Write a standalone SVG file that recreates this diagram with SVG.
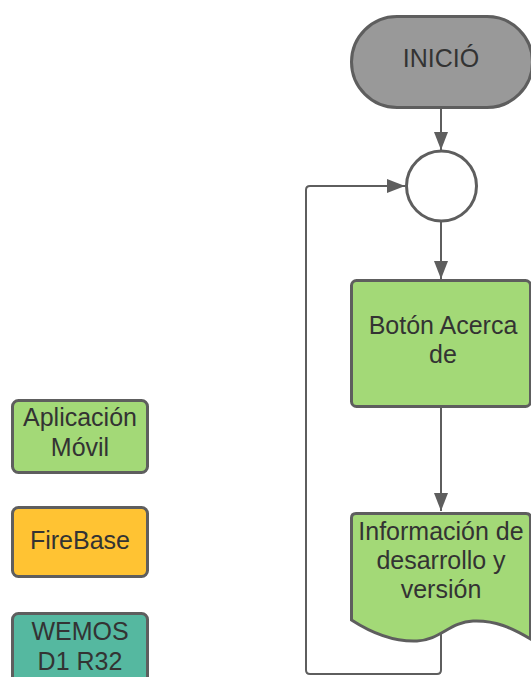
<svg xmlns="http://www.w3.org/2000/svg" width="531" height="677" viewBox="0 0 531 677">
<style>
.s{stroke:#5e5e5e;stroke-width:3}
.t{font-family:"Liberation Sans",Arial,sans-serif;font-size:25px;fill:#333;text-anchor:middle}
.c{fill:none;stroke:#5e5e5e;stroke-width:2}
</style>
<defs>
<marker id="a" markerWidth="18" markerHeight="14" refX="18" refY="7" viewBox="0 0 18 14" markerUnits="userSpaceOnUse" orient="auto">
<path d="M0,0 L18,7 L0,14 Z" fill="#5e5e5e"/>
</marker>
</defs>
<rect width="531" height="677" fill="#fff"/>
<g id="connectors">
<path class="c" d="M441,108 V150" marker-end="url(#a)"/>
<path class="c" d="M441,221 V279" marker-end="url(#a)"/>
<path class="c" d="M441,407 V511" marker-end="url(#a)"/>
<path class="c" d="M441,633 V670 Q441,674 437,674 H310 Q306,674 306,670 V190 Q306,186 310,186 H405" marker-end="url(#a)"/>
</g>
<g id="inicio">
<rect class="s" x="351.5" y="16.5" width="181" height="91" rx="45.5" fill="#999"/>
<text class="t" x="441" y="67">INICIÓ</text>
</g>
<g id="junction">
<circle class="s" cx="441.5" cy="186" r="35" fill="#fff"/>
</g>
<g id="boton">
<rect class="s" x="351.5" y="280.5" width="179" height="126" rx="5" fill="#A3D977"/>
<text class="t" x="443" y="334">Botón Acerca</text>
<text class="t" x="443" y="363">de</text>
</g>
<g id="info">
<path class="s" d="M351.5,518 Q351.5,513.5 356,513.5 H526 Q530.5,513.5 530.5,518 V639 C512,628 495,620 473,621 C450,622 440,640 417,641 C392,642 370,632 351.5,620 Z" fill="#A3D977"/>
<text class="t" x="441" y="540">Información de</text>
<text class="t" x="441" y="569">desarrollo y</text>
<text class="t" x="441" y="598">versión</text>
</g>
<g id="app">
<rect class="s" x="12.5" y="400.5" width="135" height="72" rx="6" fill="#A3D977"/>
<text class="t" x="80" y="426">Aplicación</text>
<text class="t" x="80" y="456">Móvil</text>
</g>
<g id="firebase">
<rect class="s" x="12.5" y="507.5" width="135" height="69" rx="6" fill="#FFC333"/>
<text class="t" x="80" y="549">FireBase</text>
</g>
<g id="wemos">
<rect class="s" x="12.5" y="613.5" width="135" height="72" rx="6" fill="#55B8A0"/>
<text class="t" x="80" y="640">WEMOS</text>
<text class="t" x="80" y="670">D1 R32</text>
</g>
</svg>
